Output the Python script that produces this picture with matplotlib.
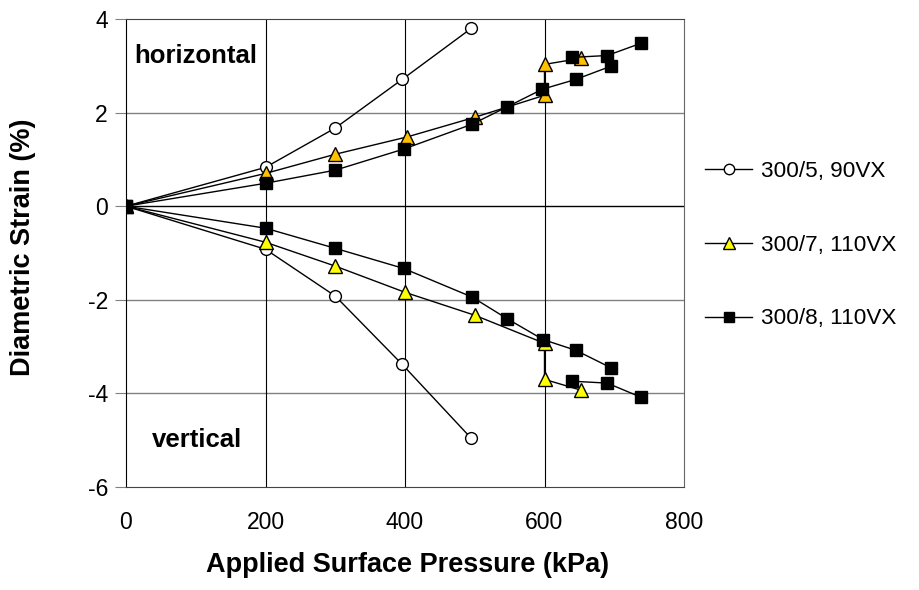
import matplotlib
matplotlib.use('Agg')
import matplotlib.pyplot as plt
import numpy as np

plt.rcParams['font.family'] = ['Liberation Sans', 'DejaVu Sans']
plt.rcParams['axes.unicode_minus'] = False

# 300/5, 90VX  (open circles)
c_h_x = [0, 200, 300, 396, 495]
c_h_y = [0, 0.83, 1.67, 2.71, 3.80]
c_v_x = [0, 200, 300, 396, 495]
c_v_y = [0, -0.92, -1.92, -3.38, -4.96]

# 300/7, 110VX  (yellow triangles)
t_h_x = [0, 200, 300, 403, 500, 600, 600, 652]
t_h_y = [0, 0.70, 1.11, 1.48, 1.90, 2.37, 3.03, 3.16]
t_v_x = [0, 200, 300, 400, 500, 600, 600, 652]
t_v_y = [0, -0.77, -1.28, -1.84, -2.33, -2.93, -3.70, -3.93]

# 300/8, 110VX  (black squares), second branch drawn separately
s_h_x = [0, 200, 300, 398, 496, 546, 597, 645, 695]
s_h_y = [0, 0.49, 0.77, 1.22, 1.75, 2.12, 2.50, 2.71, 2.99]
s_h2_x = [640, 690, 738]
s_h2_y = [3.18, 3.22, 3.48]
s_v_x = [0, 200, 300, 398, 496, 546, 598, 645, 695]
s_v_y = [0, -0.47, -0.90, -1.33, -1.94, -2.40, -2.85, -3.08, -3.45]
s_v2_x = [640, 690, 738]
s_v2_y = [-3.74, -3.78, -4.08]

labels = ['300/5, 90VX', '300/7, 110VX', '300/8, 110VX']

fig = plt.figure(figsize=(9.19, 5.90), dpi=100)
ax = fig.add_axes([126/919, 103/590, 558/919, 468/590])

# grid: grey horizontals, black verticals, black zero line
for yv in [2, -2, -4]:
    ax.axhline(yv, color='#808080', lw=1.0, zorder=1)
for xv in [200, 400, 600]:
    ax.axvline(xv, color='black', lw=0.8, zorder=1)
ax.axhline(0, color='black', lw=1.0, zorder=1)

lk = dict(color='black', lw=1.0, zorder=3)
ck = dict(marker='o', ms=8.5, mfc='white', mec='black', mew=1.0)
tk = dict(marker='^', ms=10, mec='black', mew=1.0)
sk = dict(marker='s', ms=9, mfc='black', mec='black')

ax.plot(c_h_x, c_h_y, **lk, **ck)
ax.plot(c_v_x, c_v_y, **lk, **ck)
ax.plot(t_h_x, t_h_y, **lk, **tk, mfc='#FFC000')
ax.plot(t_v_x, t_v_y, **lk, **tk, mfc='#FFFF00')
ax.plot(s_h_x, s_h_y, **lk, **sk)
ax.plot(s_h2_x, s_h2_y, **lk, **sk)
ax.plot(s_v_x, s_v_y, **lk, **sk)
ax.plot(s_v2_x, s_v2_y, **lk, **sk)

ax.set_xlim(0, 800)
ax.set_ylim(-6, 4)
ax.set_xticks([0, 200, 400, 600, 800])
ax.set_yticks([-6, -4, -2, 0, 2, 4])
ax.tick_params(axis='x', length=0, pad=17, labelsize=16.5)
ax.tick_params(axis='y', length=8, width=0.8, color='#808080', pad=5, labelsize=16.5)
ax.spines['top'].set_color('#444444')
ax.spines['right'].set_color('#666666')
ax.spines['bottom'].set_color('#444444')
ax.spines['left'].set_color('black')

fig.text(408/919, 1 - 565/590, 'Applied Surface Pressure (kPa)', fontsize=19.5,
         fontweight='bold', ha='center', va='center')
fig.text(23/919, 1 - 247/590, 'Diametric Strain (%)', fontsize=19.5,
         fontweight='bold', ha='center', va='center', rotation=90)

ax.text(12, 3.2, 'horizontal', fontsize=18.5, fontweight='bold', va='center', ha='left')
ax.text(37, -5.0, 'vertical', fontsize=18.5, fontweight='bold', va='center', ha='left')

h1 = plt.Line2D([], [], color='black', lw=1.0, marker='o', ms=7.5, mfc='white', mec='black')
h2 = plt.Line2D([], [], color='black', lw=1.0, marker='^', ms=9, mfc='#FFFF00', mec='black')
h3 = plt.Line2D([], [], color='black', lw=1.0, marker='s', ms=7.5, mfc='black', mec='black')
fig.legend([h1, h2, h3], labels, loc='center left', bbox_to_anchor=(696/919, 1 - 245/590),
           frameon=False, fontsize=16.2, labelspacing=2.35, handlelength=2.1,
           handletextpad=0.4, borderaxespad=0)

fig.savefig('out.png', dpi=100)
